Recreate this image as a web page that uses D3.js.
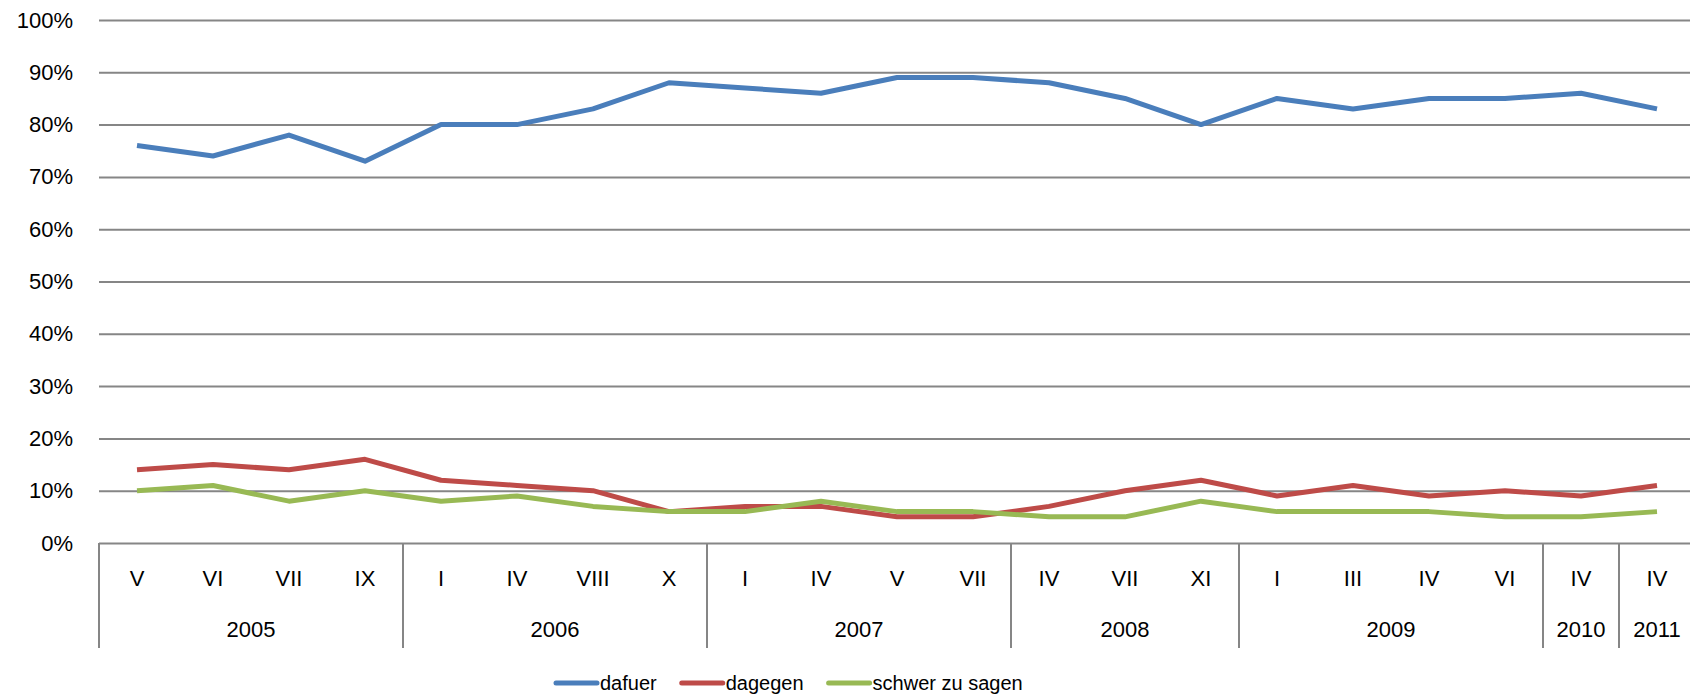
<!DOCTYPE html>
<html>
<head>
<meta charset="utf-8">
<script src="https://cdn.jsdelivr.net/npm/d3@7"></script>
<style>
  body { margin: 0; background: #fff; }
  svg { display: block; }
  .axis text { font-family: "Liberation Sans", Arial, sans-serif; font-size: 22px; fill: #000; }
  .legend text { font-family: "Liberation Sans Narrow", "Liberation Sans", sans-serif; font-size: 20px; fill: #000; }
</style>
</head>
<body>
<div id="chart"></div>
<script>
// survey months (x categories) and the year each belongs to
var months = ["V","VI","VII","IX","I","IV","VIII","X","I","IV","V","VII","IV","VII","XI","I","III","IV","VI","IV","IV"];
var years  = ["2005","2005","2005","2005","2006","2006","2006","2006","2007","2007","2007","2007",
              "2008","2008","2008","2009","2009","2009","2009","2010","2011"];

// values in percent
var dafuer  = [76,74,78,73, 80,80,83,88, 87,86,89,89, 88,85,80, 85,83,85,85, 86, 83];
var dagegen = [14,15,14,16, 12,11,10,6,  7,7,5,5,     7,10,12,  9,11,9,10,   9,  11];
var schwer  = [10,11,8,10,  8,9,7,6,     6,8,6,6,     5,5,8,    6,6,6,5,     5,  6];

var seriesNames = ["dafuer","dagegen","schwer zu sagen"];
var yTicks = [0,0.1,0.2,0.3,0.4,0.5,0.6,0.7,0.8,0.9,1];

var W = 1690, H = 698;
var plotLeft = 99, step = 76, plotTop = 20, plotBottom = 543;

var svg = d3.select('#chart').append('svg').attr('width', W).attr('height', H);

var x = d3.scaleBand().domain(d3.range(months.length)).range([plotLeft, plotLeft + step*months.length]);
var y = d3.scaleLinear().domain([0,1]).range([plotBottom, plotTop]);

// y axis with gridlines
var yAxis = svg.append('g').attr('class','axis').attr('transform','translate('+plotLeft+',0)')
  .call(d3.axisLeft(y).tickValues(yTicks).tickFormat(d3.format('.0%'))
        .tickSizeInner(-(W-plotLeft)).tickSizeOuter(0).tickPadding(26));
yAxis.select('.domain').remove();
yAxis.selectAll('line').attr('stroke','#868686').attr('stroke-width',2);

// x axis: month labels
var xAxis = svg.append('g').attr('class','axis').attr('transform','translate(0,'+plotBottom+')')
  .call(d3.axisBottom(x).tickFormat(function(i){ return months[i]; }).tickSize(0).tickPadding(27));
xAxis.select('.domain').remove();

// year groups
var groups = [];
years.forEach(function(yr, i){
  if(groups.length && groups[groups.length-1].year == yr) groups[groups.length-1].end = i;
  else groups.push({year: yr, start: i, end: i});
});

var sepX = [plotLeft].concat(groups.map(function(g){ return x(g.end) + step; }));
svg.append('g').selectAll('line').data(sepX).enter().append('line')
  .attr('x1', function(d){ return d; }).attr('x2', function(d){ return d; })
  .attr('y1', plotBottom).attr('y2', 648)
  .attr('stroke','#868686').attr('stroke-width',2);

svg.append('g').attr('class','axis').selectAll('text').data(groups).enter().append('text')
  .attr('x', function(g){ return (x(g.start) + x(g.end) + step)/2; })
  .attr('y', 637)
  .attr('text-anchor','middle')
  .text(function(g){ return g.year; });

// lines
var colors = ["#4a7ebb","#be4b48","#98b954"];
var allSeries = [dafuer, dagegen, schwer];
var line = d3.line()
  .x(function(d,i){ return x(i) + step/2; })
  .y(function(d){ return y(d/100); });

svg.append('g').selectAll('path').data(allSeries).enter().append('path')
  .attr('d', line)
  .attr('fill','none')
  .attr('stroke', function(d,i){ return colors[i]; })
  .attr('stroke-width', 5)
  .attr('stroke-linejoin','round');

// legend
var legend = svg.append('g').attr('class','legend');
var lx = 556, ly = 683;
seriesNames.forEach(function(name, i){
  var g = legend.append('g').attr('transform','translate('+lx+','+ly+')');
  g.append('line').attr('x1',0).attr('x2',41).attr('y1',0).attr('y2',0)
    .attr('stroke', colors[i]).attr('stroke-width',5).attr('stroke-linecap','round');
  var t = g.append('text').attr('x',44).attr('y',0).attr('dy','0.35em').text(name);
  lx += 44 + t.node().getComputedTextLength() + 25;
});
</script>
</body>
</html>
